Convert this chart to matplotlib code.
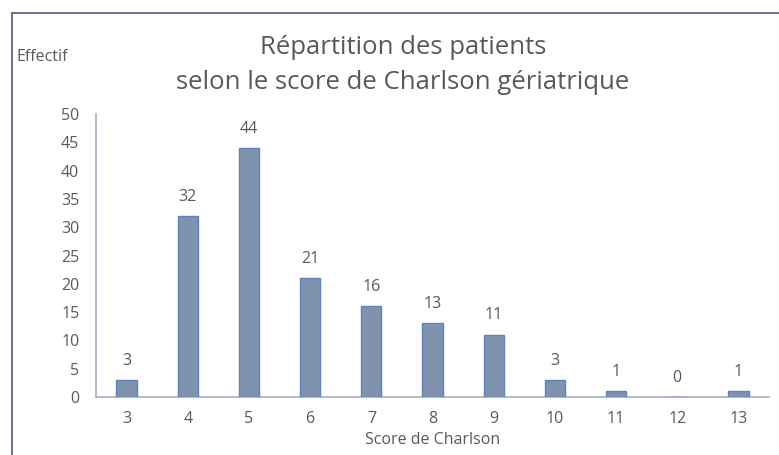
import matplotlib
matplotlib.use("Agg")
import matplotlib.pyplot as plt
from matplotlib.lines import Line2D

categories = ["3", "4", "5", "6", "7", "8", "9", "10", "11", "12", "13"]
values = [3, 32, 44, 21, 16, 13, 11, 3, 1, 0, 1]
yticks = [0, 5, 10, 15, 20, 25, 30, 35, 40, 45, 50]

plt.rcParams['font.family'] = ['Open Sans', 'DejaVu Sans']
grey = '#595959'

fig = plt.figure(figsize=(7.79, 4.55), dpi=100)
W, H = 779, 455
ax = fig.add_axes([96 / W, 1 - 397 / H, (769 - 96) / W, (397 - 114) / H])

x = list(range(len(categories)))
ax.bar(x, values, width=0.33, color='#8093AE', edgecolor='#5F82C4', linewidth=1.0, zorder=3)
for xi, v in zip(x, values):
    ax.text(xi, v + 2.0, str(v), ha='center', va='bottom', fontsize=11.5, color=grey)

ax.set_xlim(-0.5, len(categories) - 0.5)
ax.set_ylim(0, 50)
ax.set_xticks(x)
ax.set_xticklabels(categories)
ax.set_yticks(yticks)
ax.tick_params(axis='both', length=0, labelsize=11.5, colors=grey)
ax.tick_params(axis='x', pad=10)
ax.tick_params(axis='y', pad=12)
for s in ['top', 'right']:
    ax.spines[s].set_visible(False)
ax.spines['left'].set_color('#A6AFC2')
ax.spines['bottom'].set_color('#A6AFC2')
ax.spines['left'].set_linewidth(1.2)
ax.spines['bottom'].set_linewidth(1.2)

ax.set_xlabel('Score de Charlson', fontsize=11.5, color=grey, labelpad=4)

fig.text(403 / W, 1 - 65 / H, 'Répartition des patients\nselon le score de Charlson gériatrique',
         ha='center', va='center', fontsize=18.5, color=grey, linespacing=1.55)
fig.text(17 / W, 1 - 57 / H, 'Effectif', ha='left', va='center', fontsize=11.5, color=grey)

# outer frame
fig.add_artist(Line2D([12 / W, 1], [1 - 13 / H, 1 - 13 / H], transform=fig.transFigure, color='#6B778C', linewidth=1.5))
fig.add_artist(Line2D([12 / W, 12 / W], [1 - 13 / H, 0], transform=fig.transFigure, color='#6B778C', linewidth=1.5))

fig.savefig('out.png', dpi=100)
